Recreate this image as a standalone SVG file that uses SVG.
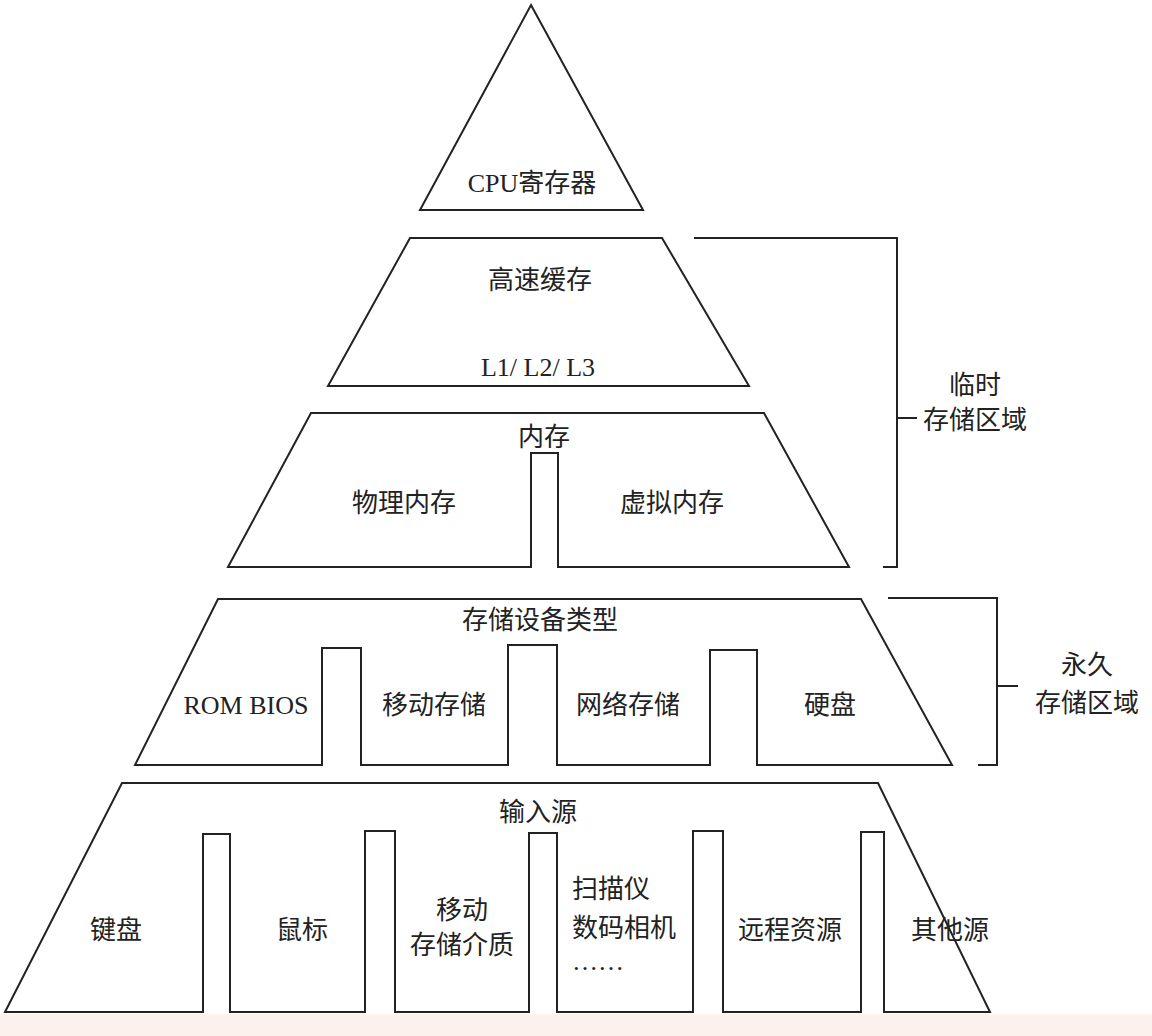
<svg xmlns="http://www.w3.org/2000/svg" width="1152" height="1036" viewBox="0 0 1152 1036">
<style>
.s{fill:#fff;stroke:#222;stroke-width:2;stroke-linejoin:miter}
.b{fill:none;stroke:#222;stroke-width:2}
text{font-family:"Liberation Serif","Noto Sans CJK SC",serif;font-size:26px;fill:#222;text-anchor:middle}
</style>
<rect width="1152" height="1036" fill="#fff"/>
<rect y="1014" width="1152" height="22" fill="#fcf1ec"/>
<g id="cpu"><polygon class="s" points="531,5 643,210 420,210"/><text x="532" y="192">CPU寄存器</text></g>
<g id="cache"><polygon class="s" points="410,238 662,238 749,386 328,386"/><text x="540" y="289">高速缓存</text><text x="538" y="376">L1/ L2/ L3</text></g>
<g id="memory"><polygon class="s" points="311,413 764,413 849,567 558,567 558,453 531,453 531,567 228,567"/><text x="544" y="446">内存</text><text x="404" y="512">物理内存</text><text x="672" y="512">虚拟内存</text></g>
<g id="storage"><polygon class="s" points="218,599 861,599 952,765 757,765 757,650 710,650 710,765 557,765 557,645 508,645 508,765 361,765 361,648 322,648 322,765 135,765"/><text x="540" y="629">存储设备类型</text><text x="246" y="714">ROM BIOS</text><text x="434" y="714">移动存储</text><text x="628" y="714">网络存储</text><text x="830" y="714">硬盘</text></g>
<g id="input"><polygon class="s" points="122,783 878,783 990,1012 884,1012 884,832 861,832 861,1012 723,1012 723,831 693,831 693,1012 557,1012 557,833 529,833 529,1012 395,1012 395,831 365,831 365,1012 230,1012 230,834 203,834 203,1012 5,1012"/><text x="538" y="821">输入源</text><text x="116" y="939">键盘</text><text x="302" y="939">鼠标</text><text x="462" y="919">移动</text><text x="462" y="954">存储介质</text><text x="572" y="898" style="text-anchor:start">扫描仪</text><text x="572" y="937" style="text-anchor:start">数码相机</text><text x="572" y="970" style="text-anchor:start">……</text><text x="790" y="939">远程资源</text><text x="950" y="939">其他源</text></g>
<g id="connectors"><polyline class="b" points="694,238 897,238 897,567 883,567"/><line class="b" x1="897" y1="418" x2="917" y2="418"/><polyline class="b" points="888,598 997,598 997,765 978,765"/><line class="b" x1="997" y1="686" x2="1018" y2="686"/></g>
<g id="labels"><text x="975" y="394">临时</text><text x="975" y="429">存储区域</text><text x="1087" y="674">永久</text><text x="1087" y="712">存储区域</text></g>
</svg>
